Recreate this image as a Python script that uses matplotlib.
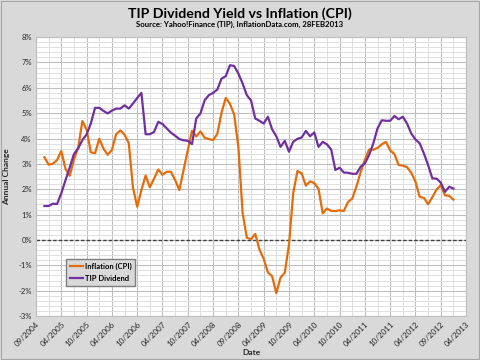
import matplotlib
matplotlib.use("Agg")
import matplotlib.pyplot as plt
from matplotlib.ticker import MultipleLocator, FuncFormatter
from matplotlib.patches import Rectangle
import numpy as np

plt.rcParams['font.family'] = ['Lato', 'DejaVu Sans']

# category axis: 103 slots, a label every 6th slot
tick_labels = ["09/2004", "04/2005", "10/2005", "04/2006", "10/2006", "04/2007",
               "10/2007", "04/2008", "09/2008", "04/2009", "10/2009", "04/2010",
               "10/2010", "04/2011", "10/2011", "04/2012", "09/2012", "04/2013"]
n_slots = 103
first_slot = 2  # data starts at the third slot (Dec 2004)

# Inflation (CPI), Dec 2004 .. Jan 2013, annual change in %
cpi = [3.26,
       2.97, 3.01, 3.15, 3.51, 2.80, 2.53, 3.17, 3.64, 4.69, 4.35, 3.46, 3.42,
       3.99, 3.60, 3.36, 3.55, 4.17, 4.32, 4.15, 3.82, 2.06, 1.31, 1.97, 2.54,
       2.08, 2.42, 2.78, 2.57, 2.69, 2.69, 2.36, 1.97, 2.76, 3.54, 4.31, 4.08,
       4.28, 4.03, 3.98, 3.94, 4.18, 5.02, 5.60, 5.37, 4.94, 3.66, 1.07, 0.09,
       0.03, 0.24, -0.38, -0.74, -1.28, -1.43, -2.10, -1.48, -1.29, -0.18, 1.84, 2.72,
       2.63, 2.14, 2.31, 2.24, 2.02, 1.05, 1.24, 1.15, 1.14, 1.17, 1.14, 1.50,
       1.63, 2.11, 2.68, 3.16, 3.57, 3.56, 3.63, 3.77, 3.87, 3.53, 3.39, 2.96,
       2.93, 2.87, 2.65, 2.30, 1.70, 1.66, 1.41, 1.69, 1.99, 2.16, 1.76, 1.74,
       1.59]

# TIP dividend yield, same months, in %
tip = [1.34, 1.34, 1.43, 1.42, 1.84, 2.36, 2.86, 3.39, 3.61, 3.94, 4.16, 4.59,
       5.21, 5.21, 5.09, 4.99, 5.10, 5.18, 5.18, 5.31, 5.18, 5.38, 5.60, 5.80,
       4.17, 4.17, 4.26, 4.66, 4.57, 4.40, 4.23, 4.11, 3.98, 3.93, 3.91, 3.78,
       4.79, 4.99, 5.51, 5.71, 5.80, 5.93, 6.36, 6.46, 6.89, 6.86, 6.56, 6.17,
       5.71, 5.50, 4.79, 4.70, 4.59, 4.86, 4.36, 4.09, 3.67, 3.91, 3.48, 3.87,
       3.99, 4.04, 4.30, 4.09, 4.24, 3.67, 3.87, 3.77, 3.57, 2.76, 2.85, 2.66,
       2.65, 2.61, 2.61, 2.89, 3.02, 3.35, 3.81, 4.40, 4.72, 4.70, 4.70, 4.89,
       4.76, 4.86, 4.59, 4.20, 3.96, 3.81, 3.41, 2.95, 2.43, 2.42, 2.26, 1.90,
       2.10, 2.03]

x = np.arange(first_slot, first_slot + len(cpi))

fig = plt.figure(figsize=(4.8, 3.6), dpi=100, facecolor="#d9d9d9")
fig.patches.append(Rectangle((0.002, 0.003), 0.996, 0.994, transform=fig.transFigure,
                             fill=False, edgecolor="#a6a6a6", lw=0.8))
ax = fig.add_axes([0.075, 0.122, 0.896, 0.775])
ax.set_facecolor("white")

ax.plot(x, cpi, color="#e46c0a", lw=1.6, label="Inflation (CPI)", zorder=3)
ax.plot(x, tip, color="#7030a0", lw=1.6, label="TIP Dividend", zorder=3)
ax.axhline(0, color="#404040", lw=1.0, ls=(0, (2.5, 1.5)), zorder=2)

ax.set_xlim(0, n_slots - 1)
ax.set_ylim(-3, 8)
ax.set_xticks(np.arange(0, n_slots, 6))
ax.set_xticklabels(tick_labels, rotation=45, ha="right", rotation_mode="anchor",
                   fontsize=5.8, color="#262626")
ax.xaxis.set_minor_locator(MultipleLocator(3))
ax.yaxis.set_major_locator(MultipleLocator(1))
ax.yaxis.set_minor_locator(MultipleLocator(0.2))
ax.yaxis.set_major_formatter(FuncFormatter(lambda v, p: "%d%%" % v))
for lab in ax.get_yticklabels():
    lab.set_fontsize(5.5)
    lab.set_color("#262626")

ax.grid(which="major", color="#bfbfbf", lw=0.8, zorder=0)
ax.grid(which="minor", color="#e0e0e0", lw=0.7, zorder=0)
ax.set_axisbelow(True)
ax.tick_params(which="both", length=0, pad=3)
for s in ax.spines.values():
    s.set_color("#bfbfbf")
    s.set_linewidth(0.8)

ax.set_xlabel("Date", fontsize=6, fontweight="bold", color="#262626", labelpad=1)
ax.set_ylabel("Annual Change", fontsize=6, fontweight="bold", color="#262626", labelpad=6)

fig.text(0.5, 0.962, "TIP Dividend Yield vs Inflation (CPI)", ha="center", va="center",
         fontsize=10.2, fontweight="bold", color="black")
fig.text(0.5, 0.932, "Source: Yahoo!Finance (TIP), InflationData.com, 28FEB2013", ha="center",
         va="center", fontsize=5.6, fontweight="bold", color="black")

leg = ax.legend(loc="lower left", bbox_to_anchor=(0.062, 0.095), fontsize=5.5, frameon=True,
                fancybox=False, handlelength=1.6, handletextpad=0.3, borderpad=0.5,
                labelspacing=0.6)
leg.get_frame().set_facecolor("#d9d9d9")
leg.get_frame().set_edgecolor("#7f7f7f")
leg.get_frame().set_alpha(1)
for t in leg.get_texts():
    t.set_fontweight("bold")

fig.savefig("out.png", dpi=100, facecolor=fig.get_facecolor())
